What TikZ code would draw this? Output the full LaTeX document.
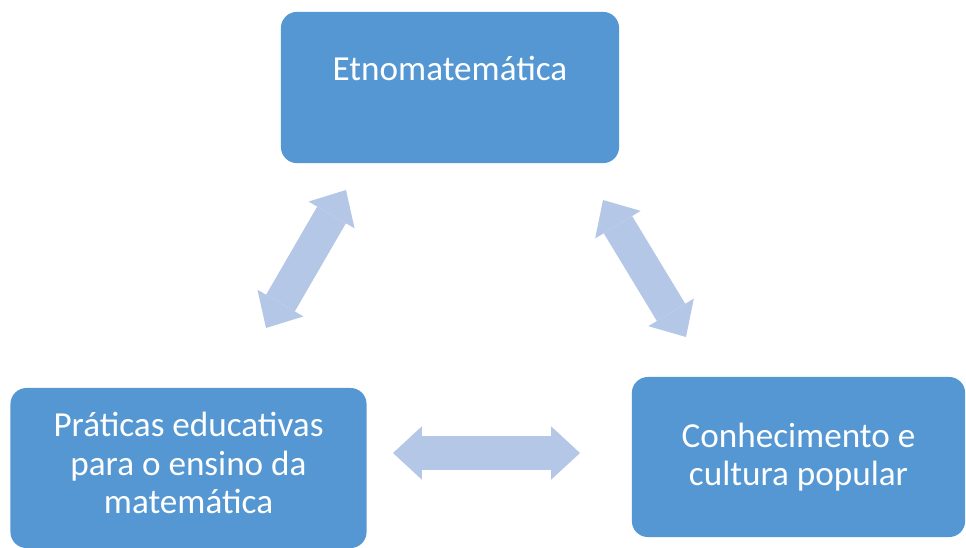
\documentclass[tikz,border=0pt]{standalone}
\usepackage{fontspec}
\setmainfont{Carlito}
\usetikzlibrary{arrows.meta}

\definecolor{caixaazul}{RGB}{84,151,211}
\definecolor{setaazul}{RGB}{180,199,231}

\begin{document}
\begin{tikzpicture}[x=0.025cm, y=-0.025cm,
        caixa/.style={shape=rectangle, rounded corners=0.4cm, fill=caixaazul, text=white, align=center,
            font=\fontsize{25}{27.2}\selectfont, inner sep=0pt},
        seta/.style={draw=setaazul, line width=0.83cm,
            {Triangle[length=0.72cm, width=1.33cm, line width'=0pt]}-{Triangle[length=0.72cm, width=1.33cm, line width'=0pt]}}]
        \useasboundingbox (0,0) rectangle (966,547);

        \node[caixa, minimum width=8.45cm, minimum height=3.78cm] (etno) at (450,87.5) {Etnomatemática\\ \mbox{}};
        \node[caixa, minimum width=8.9cm, minimum height=4cm, text depth=0.25cm] (praticas) at (188.5,468) {Práticas educativas\\para o ensino da\\matemática};
        \node[caixa, minimum width=8.33cm, minimum height=4cm] (conhec) at (798.5,457) {Conhecimento e\\cultura popular};

        \coordinate (e1) at (346,190);
        \coordinate (p1) at (266,328);
        \coordinate (e2) at (603,200);
        \coordinate (c1) at (686,337);
        \coordinate (p2) at (393,453);
        \coordinate (c2) at (580,453);

        \path [seta] (p1) -- (e1);
        \path [seta] (e2) -- (c1);
        \path [seta] (p2) -- (c2);
    \end{tikzpicture}
\end{document}
